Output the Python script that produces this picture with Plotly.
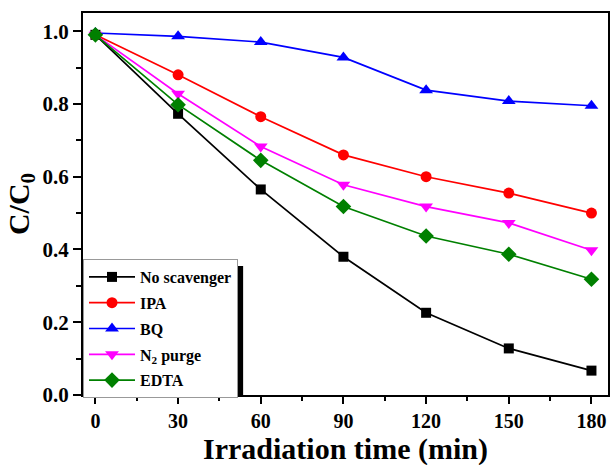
import plotly.graph_objects as go

time_min = [0, 30, 60, 90, 120, 150, 180]
no_scavenger = [0.99, 0.773, 0.565, 0.380, 0.226, 0.128, 0.067]
ipa = [0.99, 0.880, 0.765, 0.660, 0.600, 0.555, 0.500]
bq = [0.995, 0.986, 0.970, 0.928, 0.838, 0.808, 0.795]
n2_purge = [0.99, 0.828, 0.683, 0.578, 0.518, 0.473, 0.398]
edta = [0.99, 0.798, 0.645, 0.518, 0.437, 0.387, 0.318]

series = [
    ("No scavenger", no_scavenger, "black", "square", 10),
    ("IPA", ipa, "red", "circle", 11),
    ("BQ", bq, "blue", "triangle-up", 12),
    ("N<sub>2</sub> purge", n2_purge, "magenta", "triangle-down", 12),
    ("EDTA", edta, "green", "diamond", 12),
]

fig = go.Figure()
for i, (name, vals, color, sym, sz) in enumerate(series):
    fig.add_trace(go.Scatter(
        x=time_min, y=vals, name=name, mode="lines+markers",
        legendgroup=f"g{i}",
        line=dict(color=color, width=1.7),
        marker=dict(symbol=sym, size=sz, color=color),
    ))

font_fam = "Liberation Serif"
fig.update_layout(
    width=616, height=465,
    margin=dict(l=83, r=8, t=13, b=70),
    paper_bgcolor="white", plot_bgcolor="white",
    font=dict(family=font_fam, color="black"),
    showlegend=True,
    legend=dict(
        x=0.0, y=0.356, xanchor="left", yanchor="top",
        bgcolor="white", bordercolor="#999999", borderwidth=1,
        font=dict(family=font_fam, size=16, color="black", weight="bold"),
        itemwidth=46, tracegroupgap=2,
    ),
    xaxis=dict(
        range=[-4.5, 186], tickmode="array", tickvals=[0, 30, 60, 90, 120, 150, 180],
        ticks="outside", ticklen=7, tickwidth=2, tickcolor="black",
        showline=True, linewidth=2, linecolor="black", mirror=True,
        showgrid=False, zeroline=False, automargin=False,
        minor=dict(tickvals=[15, 45, 75, 105, 135, 165], ticks="outside", ticklen=4, tickwidth=2, tickcolor="black"),
        tickfont=dict(family=font_fam, size=20, color="black", weight="bold"),
    ),
    yaxis=dict(
        range=[0, 1.05], tickmode="array", tickvals=[0, 0.2, 0.4, 0.6, 0.8, 1.0],
        ticktext=["0.0", "0.2", "0.4", "0.6", "0.8", "1.0"],
        ticks="outside", ticklen=8, tickwidth=2, tickcolor="black",
        showline=True, linewidth=2, linecolor="black", mirror=True,
        showgrid=False, zeroline=False, automargin=False,
        minor=dict(tickvals=[0.1, 0.3, 0.5, 0.7, 0.9], ticks="outside", ticklen=5, tickwidth=2, tickcolor="black"),
        tickfont=dict(family=font_fam, size=21, color="black", weight="bold"),
        title=dict(text="C/C<sub>0</sub>", standoff=4,
                   font=dict(family=font_fam, size=30, color="black", weight="bold")),
    ),
)

# x-axis title as annotation, anchored near the bottom of the page
fig.add_annotation(text="Irradiation time (min)", xref="paper", yref="paper",
                   x=0.5, y=-73 / 382, xanchor="center", yanchor="bottom",
                   showarrow=False,
                   font=dict(family=font_fam, size=30, color="black", weight="bold"))

# legend drop shadow
fig.add_shape(type="rect", xref="paper", yref="paper",
              x0=0.01, x1=0.305, y0=0.0, y1=0.338,
              fillcolor="black", line=dict(width=0), layer="above")

fig.write_html("out.html")
